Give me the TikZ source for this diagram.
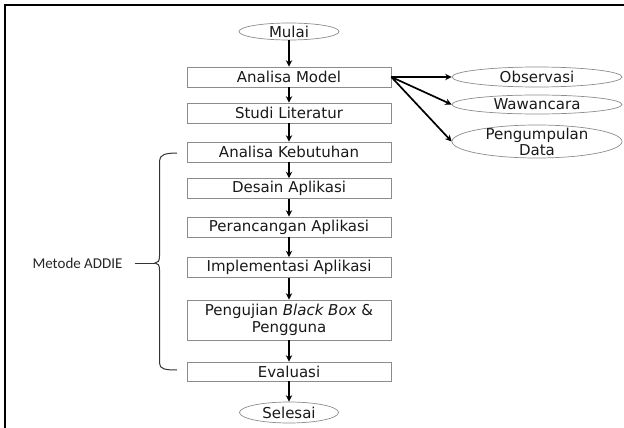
\documentclass[tikz,border=0pt]{standalone}
\usepackage{fontspec}
\setmainfont{DejaVu Sans}
\newfontfamily\calfont{Carlito}
\usetikzlibrary{shapes.geometric,arrows.meta}
\begin{document}
\begin{tikzpicture}[x=1pt,y=-1pt,
  stepbox/.style={draw=black!45,line width=0.7pt,rectangle,minimum width=204pt,minimum height=20pt,inner sep=0pt,font=\fontsize{15}{16.5}\selectfont,text=black!90,align=center},
  oval/.style={draw=black!45,line width=0.7pt,ellipse,inner sep=0pt},
  ovaltext/.style={font=\fontsize{15}{15.5}\selectfont,text=black!90,align=center,inner sep=0pt},
  flow/.style={line width=1.7pt,-{Stealth[length=6.5pt,width=6.5pt]}},
]
\useasboundingbox (0,0) rectangle (624,428);
% frame
\draw[line width=2pt] (4.5,428) -- (4.5,5.5) -- (624,5.5);

% start / end
\node[oval,minimum width=100pt,minimum height=17pt] (mulai) at (289,31.5) {};
\node[ovaltext] at (mulai) {Mulai};
\node[oval,minimum width=99pt,minimum height=21pt] (selesai) at (289,412.5) {};
\node[ovaltext] at (selesai) {Selesai};

% steps
\node[stepbox] (am) at (289,77) {Analisa Model};
\node[stepbox] (sl) at (289,113) {Studi Literatur};
\node[stepbox] (ak) at (289,152) {Analisa Kebutuhan};
\node[stepbox] (da) at (289,188.5) {Desain Aplikasi};
\node[stepbox] (pa) at (289,227) {Perancangan Aplikasi};
\node[stepbox] (ia) at (289,267.5) {Implementasi Aplikasi};
\node[stepbox,minimum height=40pt] (pb) at (289,320) {Pengujian \textit{Black Box} \&\\Pengguna};
\node[stepbox,minimum height=19pt] (ev) at (289,371.5) {Evaluasi};

% right ellipses
\node[oval,minimum width=170pt,minimum height=20pt] (obs) at (537,77) {};
\node[ovaltext] at (obs) {Observasi};
\node[oval,minimum width=170pt,minimum height=19pt] (waw) at (537,104.5) {};
\node[ovaltext] at (waw) {Wawancara};
\node[oval,minimum width=170pt,minimum height=33pt] (peng) at (537,141.5) {};
\node[ovaltext,font=\fontsize{15}{16}\selectfont] at (peng) {Pengumpulan\\Data};

% flow arrows
\draw[flow] (mulai.south) -- (mulai.south |- am.north);
\draw[flow] (am.south) -- (am.south |- sl.north);
\draw[flow] (sl.south) -- (sl.south |- ak.north);
\draw[flow] (ak.south) -- (ak.south |- da.north);
\draw[flow] (da.south) -- (da.south |- pa.north);
\draw[flow] (pa.south) -- (pa.south |- ia.north);
\draw[flow] (ia.south) -- (ia.south |- pb.north);
\draw[flow] (pb.south) -- (pb.south |- ev.north);
\draw[flow] (ev.south) -- (ev.south |- selesai.north);

\draw[flow] (am.east) -- (obs.west);
\draw[flow] (am.east) -- (waw.west);
\draw[flow] (am.east) -- (peng.west);

% brace
\coordinate (bt) at (155,263);
\draw[line width=1pt,black!80] (177,153) .. controls (165,153) and (159.5,155) .. (159.5,161) -- (159.5,256)
  .. controls (159.5,261) and (158,263) .. (bt)
  .. controls (158,263) and (159.5,265) .. (159.5,270) -- (159.5,363)
  .. controls (159.5,369) and (165,370) .. (177,370);
\node[font=\calfont\fontsize{15}{16}\selectfont,text=black!85,inner sep=0pt] (madd) at (77.5,263) {Metode ADDIE};
\draw[line width=1pt,black!80] ([xshift=12pt]madd.east) -- (bt);
\end{tikzpicture}
\end{document}
